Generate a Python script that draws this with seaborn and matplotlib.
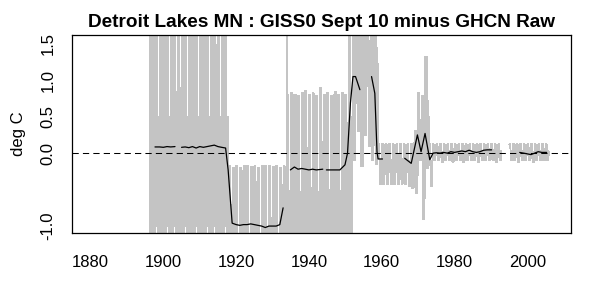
import numpy as np
import pandas as pd
import matplotlib
matplotlib.use("Agg")
import matplotlib.pyplot as plt
import seaborn as sns

nan = np.nan

# ---------------- data ----------------
gray_years = list(range(1896, 2006))
# upper / lower envelope of the monthly differences per year (values past the axis are clipped)
gray_hi = [2.5, 2.5, 2.5, 2.5,                                          # 1896-1899
           2.5, 2.5, 2.5, 2.5, 2.5, 2.5, 2.5, 2.5, 2.5, 2.5,            # 1900s
           2.5, 2.5, 2.5, 2.5, 2.5, 2.5, 2.5, 2.5, -0.18, -0.2,         # 1910s
           -0.18, -0.2, -0.17, -0.18, -0.19, -0.18, -0.2, -0.18, -0.17, -0.18,  # 1920s
           -0.19, -0.18, -0.2, -0.18, 0.8, 0.82, 0.8, 0.78, 0.82, 0.85,  # 1930s
           0.8, 0.82, 0.78, 0.9, 0.8, 0.82, 0.79, 0.84, 0.8, 0.82,       # 1940s
           0.8, 2.5, 2.5, 2.5, 2.5, 2.5, 2.5, 2.5, 2.5, 0.12,            # 1950s
           0.12, 0.12, 0.12, 0.12, 0.12, 0.12, 0.12, 0.12, 0.12, 0.3,    # 1960s
           0.82, 0.78, 1.32, 0.12, 0.12, 0.12, 0.12, 0.12, 0.12, 0.12,   # 1970s
           0.12, 0.12, 0.12, 0.12, 0.12, 0.12, 0.12, 0.12, 0.12, 0.12,   # 1980s
           0.12, 0.12, 0.12, nan, nan, 0.12, 0.12, 0.12, 0.12, 0.12,     # 1990s
           0.12, 0.12, 0.12, 0.12, 0.12, 0.12]                           # 2000-2005
gray_lo = [-2.5, -2.5, -2.5, -2.5,
           -2.5, -2.5, -2.5, -2.5, -2.5, -2.5, -2.5, -2.5, -2.5, -2.5,
           -2.5, -2.5, -2.5, -2.5, -2.5, -2.5, -2.5, -2.5, -2.5, -2.5,
           -2.5, -2.5, -2.5, -2.5, -2.5, -2.5, -2.5, -2.5, -2.5, -2.5,
           -2.5, -2.5, -2.5, -2.5, -2.5, -2.5, -2.5, -2.5, -2.5, -2.5,
           -2.5, -2.5, -2.5, -2.5, -2.5, -2.5, -2.5, -2.5, -2.5, -2.5,
           -2.5, -2.5, -0.1, 0.3, -0.18, 0.25, 0.1, -0.1, -0.15, -0.42,
           -0.42, -0.42, -0.42, -0.42, -0.42, -0.42, -0.42, -0.45, -0.48, -0.55,
           -0.1, -0.91, -0.2, -0.45, -0.1, -0.1, -0.12, -0.1, -0.1, -0.12,
           -0.1, -0.1, -0.12, -0.1, -0.1, -0.1, -0.12, -0.1, -0.1, -0.1,
           -0.1, -0.12, -0.1, nan, nan, -0.1, -0.1, -0.12, -0.1, -0.1,
           -0.1, -0.12, -0.1, -0.1, -0.1, -0.1]
# where in each year's range the twelve monthly values fall (0 = low, 1 = high)
month_shape = [1, 1, 1, 1, 1, 0, 0, 0, 0, 0, 0.6, 0.3]
spike_time = [1934.0]
spike_value = [2.5]

# annual mean difference (black line); NaN marks a gap
black_t = [1897.7, 1899, 1900, 1901, 1902, 1903.2, nan,
           1905.0, 1906, 1907, 1908, 1909, 1910, 1911, 1912, 1913, 1914, 1915, 1916,
           1917.1, 1917.8, 1918.9,
           1920, 1921, 1922, 1923, 1924, 1925, 1926, 1927, 1928, 1929, 1930, 1931,
           1932.0, 1932.9, nan,
           1934.9, 1936, 1937, 1938, 1939, 1940, 1941, 1942, 1943.8, nan,
           1944.8, 1946, 1947, 1948.5, 1949.9, 1950.6, 1951.4, 1952.1, 1952.8, 1954.0, nan,
           1957.2, 1958.1, 1958.7, 1959.0, 1960.2, nan,
           1966.3, 1968.1, 1969.8, 1970.8, 1971.9, 1973.2, 1974.1,
           1975, 1976, 1977, 1978, 1979, 1980, 1981, 1982, 1983, 1984, 1985, 1986,
           1987, 1988, 1989, 1990.2, nan,
           1997.9, 1999, 2000, 2001, 2002, 2003, 2004, 2005.3]
black_v = [0.085, 0.085, 0.08, 0.09, 0.085, 0.09, nan,
           0.08, 0.085, 0.075, 0.09, 0.07, 0.09, 0.08, 0.09, 0.10, 0.11, 0.09, 0.08,
           0.07, -0.23, -0.96,
           -0.98, -0.99, -0.98, -0.98, -0.97, -0.98, -0.99, -1.0, -1.02, -1.0, -1.0, -1.0,
           -0.98, -0.75, nan,
           -0.23, -0.19, -0.22, -0.21, -0.22, -0.23, -0.22, -0.23, -0.22, nan,
           -0.23, -0.23, -0.23, -0.23, -0.16, 0.0, 0.69, 1.05, 1.05, 0.87, nan,
           1.05, 0.82, 0.02, -0.08, -0.08, nan,
           -0.07, -0.14, 0.25, 0.02, 0.27, -0.09, 0.0,
           0.005, 0.0, 0.01, 0.0, 0.02, 0.01, 0.02, 0.03, 0.02, 0.04, 0.02, 0.01,
           0.02, 0.04, 0.045, 0.045, nan,
           0.01, 0.0, -0.01, -0.02, 0.0, 0.02, 0.01, 0.01]

x_ticks = [1880, 1900, 1920, 1940, 1960, 1980, 2000]
y_ticks = [-1.0, -0.5, 0.0, 0.5, 1.0, 1.5]
y_tick_labels = ["-1.0", "", "0.0", "0.5", "1.0", "1.5"]
title = "Detroit Lakes MN : GISS0 Sept 10 minus GHCN Raw"
ylabel = "deg C"

# ---------------- build tables ----------------
rows = []
for y, hi, lo in zip(gray_years, gray_hi, gray_lo):
    for m, w in enumerate(month_shape):
        t = y + m / 12.0
        v = nan if np.isnan(hi) else lo + w * (hi - lo)
        for st, sv in zip(spike_time, spike_value):
            if abs(t - st) < 1e-6:
                v = sv
        rows.append((t, v))
gray = pd.DataFrame(rows, columns=["t", "v"])
gray["seg"] = gray["v"].isna().cumsum()
gray = gray.dropna()

black = pd.DataFrame({"t": black_t, "v": black_v})
black["seg"] = black["v"].isna().cumsum()
black = black.dropna()

# ---------------- draw ----------------
sns.set_theme(style="white")
plt.rcParams["font.family"] = ["Liberation Sans", "DejaVu Sans"]

fig = plt.figure(figsize=(5.89, 2.87), dpi=100)
ax = fig.add_axes([72 / 589, 1 - 233 / 287, (571 - 72) / 589, (233 - 35) / 287])

sns.lineplot(data=gray, x="t", y="v", units="seg", estimator=None, sort=False,
             color="#C4C4C4", linewidth=0.6, antialiased=False, ax=ax)
sns.lineplot(data=black, x="t", y="v", units="seg", estimator=None, sort=False,
             color="black", linewidth=0.9, ax=ax)
ax.axhline(0, color="black", linewidth=0.75, linestyle=(0, (6, 4)))

ax.set_xlim(1874.9, 2012.0)
ax.set_ylim(-1.095, 1.62)
ax.set_xticks(x_ticks)
ax.set_xticklabels([str(x) for x in x_ticks])
ax.set_yticks(y_ticks)
ax.set_yticklabels(y_tick_labels, rotation=90, va="center")
ax.tick_params(axis="both", direction="out", length=5, width=0.75, color="black",
               labelsize=12, labelcolor="black")
ax.tick_params(axis="x", pad=11)
ax.tick_params(axis="y", pad=7)
for s in ax.spines.values():
    s.set_color("black")
    s.set_linewidth(0.9)
ax.set_xlabel("")
ax.set_ylabel(ylabel, fontsize=12, color="black", labelpad=10)
ax.set_title(title, fontsize=13.7, fontweight="bold", color="black", pad=6)

fig.savefig("out.png", dpi=100)
